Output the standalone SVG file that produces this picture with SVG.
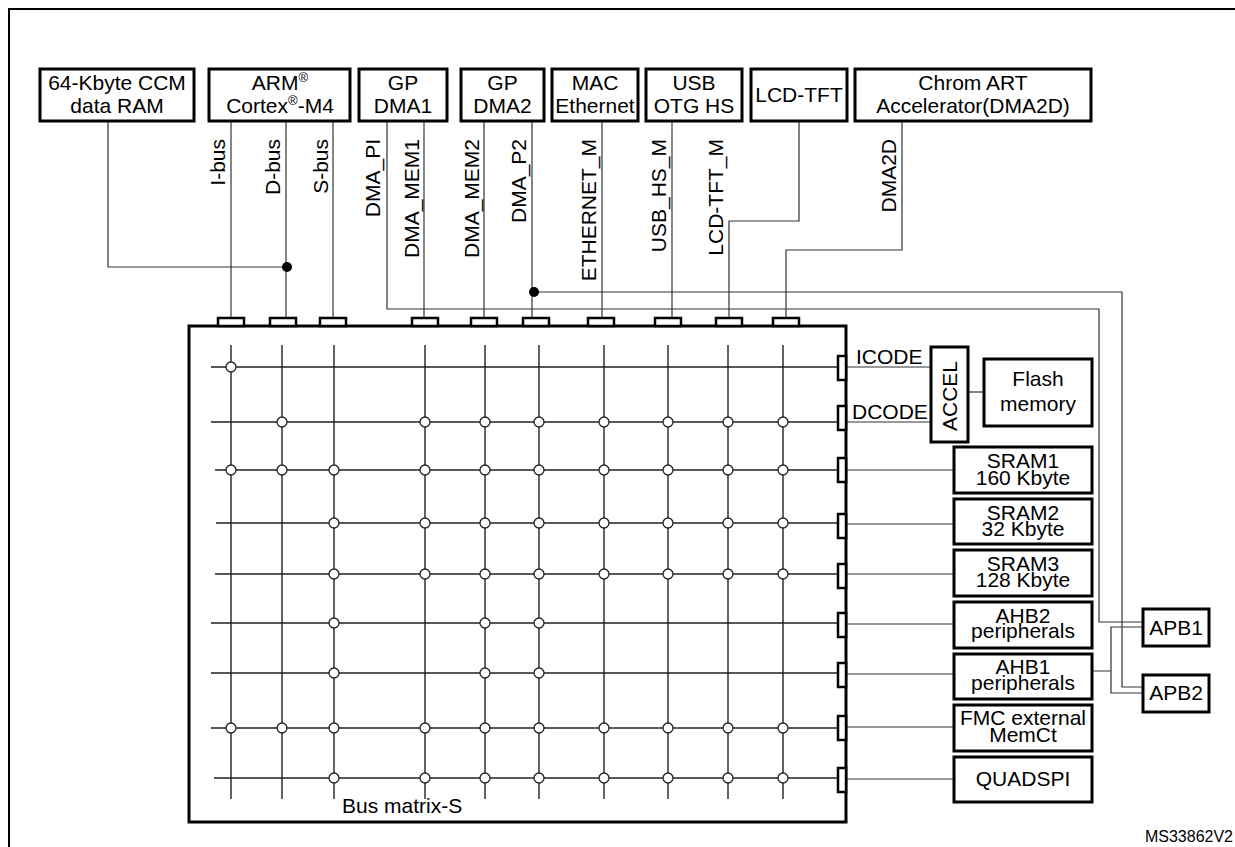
<svg xmlns="http://www.w3.org/2000/svg" width="1235" height="847" viewBox="0 0 1235 847">
<style>
text{font-family:"Liberation Sans",Arial,sans-serif;font-size:21px;fill:#000;stroke:none}
.box{fill:#fff;stroke:#000;stroke-width:3}
.port{fill:#fff;stroke:#000;stroke-width:2.5}
.ln{fill:none;stroke:#333;stroke-width:1.2}
.grid{fill:none;stroke:#222;stroke-width:1.4}
.sw{fill:#fff;stroke:#222;stroke-width:1.3}
.mid{text-anchor:middle}
.vl{text-anchor:end}
.dot{fill:#000;stroke:none}
</style>
<rect width="1235" height="847" fill="#fff"/>
<path d="M9,848V9H1236" fill="none" stroke="#000" stroke-width="2"/>

<g id="connectors">
 <g class="ln">
 <path d="M108,122V267H287"/>
 <path d="M231,122V318"/>
 <path d="M286,122V318"/>
 <path d="M333,122V318"/>
 <path d="M387,122V309H1099V622H1143"/>
 <path d="M424,122V318"/>
 <path d="M484,122V318"/>
 <path d="M532,122V318"/>
 <path d="M533,292H1122V687H1143"/>
 <path d="M602,122V318"/>
 <path d="M672,122V318"/>
 <path d="M799,122V221H729V318"/>
 <path d="M902,122V250H786V318"/>
 <path d="M846,367H931"/>
 <path d="M846,422H931"/>
 <path d="M968,392H984"/>
 <path d="M846,470H954"/>
 <path d="M846,524H954"/>
 <path d="M846,574H954"/>
 <path d="M846,624H954"/>
 <path d="M846,674H954"/>
 <path d="M846,727H954"/>
 <path d="M846,779H954"/>
 <path d="M1092,671H1111M1143,627H1111V693H1143"/>
 </g>
 <circle class="dot" cx="287" cy="267" r="5"/>
 <circle class="dot" cx="534" cy="292" r="5"/>
 <text x="856" y="364">ICODE</text>
 <text x="852" y="419">DCODE</text>
 <text class="vl" transform="translate(225,139) rotate(-90)">I-bus</text>
 <text class="vl" transform="translate(280,139) rotate(-90)">D-bus</text>
 <text class="vl" transform="translate(328,139) rotate(-90)">S-bus</text>
 <text class="vl" transform="translate(380,139) rotate(-90)">DMA_PI</text>
 <text class="vl" transform="translate(419,139) rotate(-90)">DMA_MEM1</text>
 <text class="vl" transform="translate(479,139) rotate(-90)">DMA_MEM2</text>
 <text class="vl" transform="translate(526,139) rotate(-90)">DMA_P2</text>
 <text class="vl" transform="translate(596,139) rotate(-90)">ETHERNET_M</text>
 <text class="vl" transform="translate(666,139) rotate(-90)">USB_HS_M</text>
 <text class="vl" transform="translate(723,139) rotate(-90)">LCD-TFT_M</text>
 <text class="vl" transform="translate(896,139) rotate(-90)">DMA2D</text>
</g>

<g id="ccm"><rect class="box" x="40" y="69" width="154" height="52"/>
 <text class="mid" x="117" y="90">64-Kbyte CCM</text><text class="mid" x="117" y="113">data RAM</text></g>
<g id="cortex"><rect class="box" x="209" y="69" width="141" height="52"/>
 <text class="mid" x="280" y="90">ARM<tspan font-size="13" dy="-8">®</tspan></text>
 <text class="mid" x="280" y="113">Cortex<tspan font-size="13" dy="-8">®</tspan><tspan dy="8">-M4</tspan></text></g>
<g id="dma1"><rect class="box" x="359" y="69" width="88" height="52"/>
 <text class="mid" x="403" y="90">GP</text><text class="mid" x="403" y="113">DMA1</text></g>
<g id="dma2"><rect class="box" x="461" y="69" width="83" height="52"/>
 <text class="mid" x="502.5" y="90">GP</text><text class="mid" x="502.5" y="113">DMA2</text></g>
<g id="mac"><rect class="box" x="552" y="69" width="86" height="52"/>
 <text class="mid" x="595" y="90">MAC</text><text class="mid" x="595" y="113">Ethernet</text></g>
<g id="usb"><rect class="box" x="646" y="69" width="96" height="52"/>
 <text class="mid" x="694" y="90">USB</text><text class="mid" x="694" y="113">OTG HS</text></g>
<g id="lcd"><rect class="box" x="751" y="69" width="96" height="52"/>
 <text class="mid" x="799" y="102">LCD-TFT</text></g>
<g id="chromart"><rect class="box" x="855" y="69" width="236" height="52"/>
 <text class="mid" x="973" y="90">Chrom ART</text><text class="mid" x="973" y="113">Accelerator(DMA2D)</text></g>

<g id="busmatrix">
 <rect class="box" x="189" y="326" width="657" height="496"/>
 <g class="grid">
  <path d="M231,345V799M282,345V799M334,345V799M425,345V799M485,345V799M539,345V799M604,345V799M668,345V799M728,345V799M783,345V799"/>
  <path d="M211,367H838M211,422H838M215,470H838M216,523H838M215,574H838M211,623H838M211,673H838M211,728H838M214,778H838"/>
 </g>
 <g>
  <circle class="sw" cx="231" cy="367" r="5"/>
  <circle class="sw" cx="282" cy="422" r="5"/><circle class="sw" cx="425" cy="422" r="5"/><circle class="sw" cx="485" cy="422" r="5"/><circle class="sw" cx="539" cy="422" r="5"/><circle class="sw" cx="604" cy="422" r="5"/><circle class="sw" cx="668" cy="422" r="5"/><circle class="sw" cx="728" cy="422" r="5"/><circle class="sw" cx="783" cy="422" r="5"/>
  <circle class="sw" cx="231" cy="470" r="5"/><circle class="sw" cx="282" cy="470" r="5"/><circle class="sw" cx="334" cy="470" r="5"/><circle class="sw" cx="425" cy="470" r="5"/><circle class="sw" cx="485" cy="470" r="5"/><circle class="sw" cx="539" cy="470" r="5"/><circle class="sw" cx="604" cy="470" r="5"/><circle class="sw" cx="668" cy="470" r="5"/><circle class="sw" cx="728" cy="470" r="5"/><circle class="sw" cx="783" cy="470" r="5"/>
  <circle class="sw" cx="334" cy="523" r="5"/><circle class="sw" cx="425" cy="523" r="5"/><circle class="sw" cx="485" cy="523" r="5"/><circle class="sw" cx="539" cy="523" r="5"/><circle class="sw" cx="604" cy="523" r="5"/><circle class="sw" cx="668" cy="523" r="5"/><circle class="sw" cx="728" cy="523" r="5"/><circle class="sw" cx="783" cy="523" r="5"/>
  <circle class="sw" cx="334" cy="574" r="5"/><circle class="sw" cx="425" cy="574" r="5"/><circle class="sw" cx="485" cy="574" r="5"/><circle class="sw" cx="539" cy="574" r="5"/><circle class="sw" cx="604" cy="574" r="5"/><circle class="sw" cx="668" cy="574" r="5"/><circle class="sw" cx="728" cy="574" r="5"/><circle class="sw" cx="783" cy="574" r="5"/>
  <circle class="sw" cx="334" cy="623" r="5"/><circle class="sw" cx="485" cy="623" r="5"/><circle class="sw" cx="539" cy="623" r="5"/>
  <circle class="sw" cx="334" cy="673" r="5"/><circle class="sw" cx="485" cy="673" r="5"/><circle class="sw" cx="539" cy="673" r="5"/>
  <circle class="sw" cx="231" cy="728" r="5"/><circle class="sw" cx="282" cy="728" r="5"/><circle class="sw" cx="334" cy="728" r="5"/><circle class="sw" cx="425" cy="728" r="5"/><circle class="sw" cx="485" cy="728" r="5"/><circle class="sw" cx="539" cy="728" r="5"/><circle class="sw" cx="604" cy="728" r="5"/><circle class="sw" cx="668" cy="728" r="5"/><circle class="sw" cx="728" cy="728" r="5"/><circle class="sw" cx="783" cy="728" r="5"/>
  <circle class="sw" cx="334" cy="778" r="5"/><circle class="sw" cx="425" cy="778" r="5"/><circle class="sw" cx="485" cy="778" r="5"/><circle class="sw" cx="539" cy="778" r="5"/><circle class="sw" cx="604" cy="778" r="5"/><circle class="sw" cx="668" cy="778" r="5"/><circle class="sw" cx="728" cy="778" r="5"/><circle class="sw" cx="783" cy="778" r="5"/>
 </g>
 <g>
  <rect class="port" x="218" y="318" width="26" height="8"/>
  <rect class="port" x="270" y="318" width="26" height="8"/>
  <rect class="port" x="320" y="318" width="26" height="8"/>
  <rect class="port" x="412" y="318" width="26" height="8"/>
  <rect class="port" x="471" y="318" width="26" height="8"/>
  <rect class="port" x="523" y="318" width="26" height="8"/>
  <rect class="port" x="588" y="318" width="26" height="8"/>
  <rect class="port" x="655" y="318" width="26" height="8"/>
  <rect class="port" x="716" y="318" width="26" height="8"/>
  <rect class="port" x="773" y="318" width="26" height="8"/>
  <rect class="port" x="838" y="356" width="8" height="24"/>
  <rect class="port" x="838" y="406" width="8" height="24"/>
  <rect class="port" x="838" y="458" width="8" height="24"/>
  <rect class="port" x="838" y="514" width="8" height="24"/>
  <rect class="port" x="838" y="564" width="8" height="24"/>
  <rect class="port" x="838" y="613" width="8" height="24"/>
  <rect class="port" x="838" y="663" width="8" height="24"/>
  <rect class="port" x="838" y="716" width="8" height="24"/>
  <rect class="port" x="838" y="768" width="8" height="24"/>
 </g>
 <text x="342" y="813">Bus matrix-S</text>
</g>

<g id="accel"><rect class="box" x="931" y="347" width="37" height="95"/>
 <text class="mid" transform="translate(957,396) rotate(-90)">ACCEL</text></g>
<g id="flash"><rect class="box" x="984" y="359" width="108" height="67"/>
 <text class="mid" x="1038" y="386">Flash</text><text class="mid" x="1038" y="411">memory</text></g>
<g id="sram1"><rect class="box" x="954" y="447" width="138" height="46"/>
 <text class="mid" x="1023" y="467.5">SRAM1</text><text class="mid" x="1023" y="484.5">160 Kbyte</text></g>
<g id="sram2"><rect class="box" x="954" y="499" width="138" height="45"/>
 <text class="mid" x="1023" y="519.5">SRAM2</text><text class="mid" x="1023" y="536">32 Kbyte</text></g>
<g id="sram3"><rect class="box" x="954" y="550" width="138" height="46"/>
 <text class="mid" x="1023" y="570.5">SRAM3</text><text class="mid" x="1023" y="587">128 Kbyte</text></g>
<g id="ahb2"><rect class="box" x="954" y="602" width="138" height="46"/>
 <text class="mid" x="1023" y="622.5">AHB2</text><text class="mid" x="1023" y="638">peripherals</text></g>
<g id="ahb1"><rect class="box" x="954" y="654" width="138" height="45"/>
 <text class="mid" x="1023" y="674">AHB1</text><text class="mid" x="1023" y="689.5">peripherals</text></g>
<g id="fmc"><rect class="box" x="954" y="705" width="138" height="46"/>
 <text class="mid" x="1023" y="725">FMC external</text><text class="mid" x="1023" y="741.5">MemCt</text></g>
<g id="quadspi"><rect class="box" x="954" y="757" width="138" height="45"/>
 <text class="mid" x="1023" y="786">QUADSPI</text></g>
<g id="apb1"><rect class="box" x="1143" y="609" width="66" height="37"/>
 <text class="mid" x="1176" y="635">APB1</text></g>
<g id="apb2"><rect class="box" x="1143" y="675" width="66" height="37"/>
 <text class="mid" x="1176" y="700">APB2</text></g>

<text x="1233" y="842" style="font-size:16px;text-anchor:end">MS33862V2</text>
</svg>
